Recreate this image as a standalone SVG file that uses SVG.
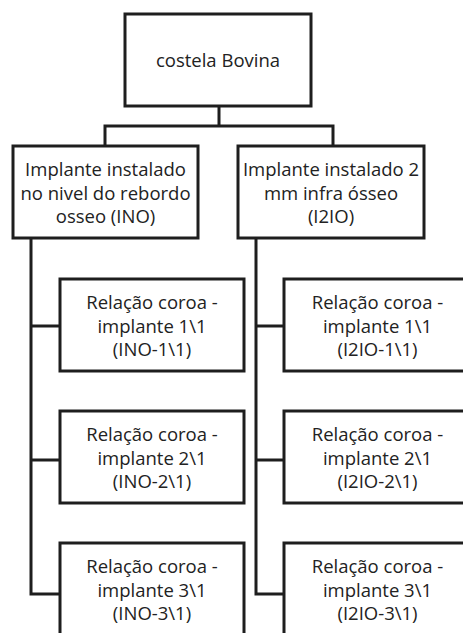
<svg xmlns="http://www.w3.org/2000/svg" width="463" height="633" viewBox="0 0 463 633">
<style>
.box{fill:#fff;stroke:#1e1e1e;stroke-width:3}
.con{fill:none;stroke:#1e1e1e;stroke-width:3}
text{font-family:"Open Sans","Noto Sans",sans-serif;font-size:18.5px;fill:#222;text-anchor:middle}
</style>
<rect width="463" height="633" fill="#fff"/>
<g id="connectors">
<path class="con" d="M219,106 V126 M105,146 V126 H333 V146"/>
<path class="con" d="M31,238 V594 H60 M31,326 H60 M31,460 H60"/>
<path class="con" d="M256,238 V594 H284 M256,326 H284 M256,460 H284"/>
</g>
<g id="root">
<rect class="box" x="125" y="14" width="186" height="92"/>
<text x="218" y="67">costela Bovina</text>
</g>
<g id="ino">
<rect class="box" x="13" y="146" width="185" height="92"/>
<text x="105.5" y="176">Implante instalado</text>
<text x="105.5" y="199.5">no nivel do rebordo</text>
<text x="105.5" y="223">osseo (INO)</text>
</g>
<g id="i2io">
<rect class="box" x="238" y="146" width="186" height="92"/>
<text x="331" y="176">Implante instalado 2</text>
<text x="331" y="199.5">mm infra ósseo</text>
<text x="331" y="223">(I2IO)</text>
</g>
<g id="ino-1">
<rect class="box" x="60" y="279" width="184" height="92"/>
<text x="152" y="309">Relação coroa -</text>
<text x="152" y="332.5">implante 1\1</text>
<text x="152" y="356">(INO-1\1)</text>
</g>
<g id="ino-2">
<rect class="box" x="60" y="411" width="184" height="92"/>
<text x="152" y="441">Relação coroa -</text>
<text x="152" y="464.5">implante 2\1</text>
<text x="152" y="488">(INO-2\1)</text>
</g>
<g id="ino-3">
<rect class="box" x="60" y="543" width="184" height="100"/>
<text x="152" y="573">Relação coroa -</text>
<text x="152" y="596.5">implante 3\1</text>
<text x="152" y="620">(INO-3\1)</text>
</g>
<g id="i2io-1">
<rect class="box" x="284" y="279" width="188" height="92"/>
<text x="377.5" y="309">Relação coroa -</text>
<text x="377.5" y="332.5">implante 1\1</text>
<text x="377.5" y="356">(I2IO-1\1)</text>
</g>
<g id="i2io-2">
<rect class="box" x="284" y="411" width="188" height="92"/>
<text x="377.5" y="441">Relação coroa -</text>
<text x="377.5" y="464.5">implante 2\1</text>
<text x="377.5" y="488">(I2IO-2\1)</text>
</g>
<g id="i2io-3">
<rect class="box" x="284" y="543" width="188" height="100"/>
<text x="377.5" y="573">Relação coroa -</text>
<text x="377.5" y="596.5">implante 3\1</text>
<text x="377.5" y="620">(I2IO-3\1)</text>
</g>
</svg>
